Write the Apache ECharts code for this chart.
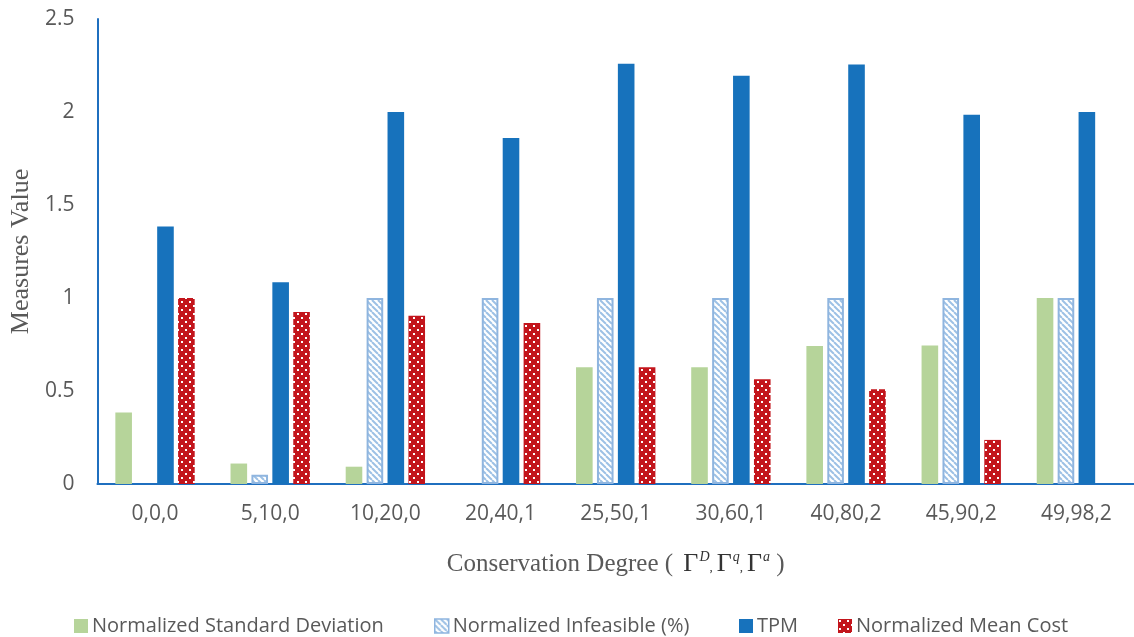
<!DOCTYPE html>
<html>
<head>
<meta charset="utf-8">
<script src="https://cdn.jsdelivr.net/npm/echarts@6/dist/echarts.min.js"></script>
<style>
  html, body { margin: 0; padding: 0; background: #fff; }
  #chart { width: 1134px; height: 637px; }
</style>
</head>
<body>
<div id="chart"></div>
<script>
// Conservation degree settings (Γ^D, Γ^q, Γ^a)
const categories = ['0,0,0', '5,10,0', '10,20,0', '20,40,1', '25,50,1', '30,60,1', '40,80,2', '45,90,2', '49,98,2'];

const stdDev     = [0.385, 0.11, 0.093, 0, 0.628, 0.628, 0.742, 0.745, 1];
const infeasible = [0, 0.05, 1, 1, 1, 1, 1, 1, 1];
const tpm        = [1.385, 1.085, 2.0, 1.86, 2.26, 2.195, 2.255, 1.985, 2.0];
const meanCost   = [1, 0.925, 0.905, 0.865, 0.628, 0.563, 0.51, 0.237, 0];

const seriesNames = ['Normalized Standard Deviation', 'Normalized Infeasible (%)', 'TPM', 'Normalized Mean Cost'];
const yTicks = ['0', '0.5', '1', '1.5', '2', '2.5'];

const TEXT = '#595959';
const AXIS = '#1F6FBF';

// diagonal light-blue hatching on white
function hatchPattern() {
  const c = document.createElement('canvas');
  c.width = 6; c.height = 6;
  const g = c.getContext('2d');
  g.fillStyle = '#ffffff';
  g.fillRect(0, 0, 6, 6);
  g.strokeStyle = '#9DC1E5';
  g.lineWidth = 2;
  for (let k = -6; k <= 6; k += 6) {
    g.beginPath();
    g.moveTo(k, 0);
    g.lineTo(k + 6, 6);
    g.stroke();
  }
  return c;
}

// red fill with staggered white dots
function dotPattern() {
  const c = document.createElement('canvas');
  c.width = 8; c.height = 8;
  const g = c.getContext('2d');
  g.fillStyle = '#C3151C';
  g.fillRect(0, 0, 8, 8);
  g.fillStyle = '#ffffff';
  g.fillRect(1, 1, 2, 2);
  g.fillRect(5, 5, 2, 2);
  return c;
}

// zero-height hatched bars get no outline
const infeasibleData = infeasible.map(v => v === 0 ? { value: v, itemStyle: { borderWidth: 0 } } : v);

const chart = echarts.init(document.getElementById('chart'), null, { renderer: 'canvas' });

const labelFont = { fontFamily: 'Open Sans', fontSize: 21, color: TEXT };
const legendBase = {
  top: 611,
  itemWidth: 14,
  itemHeight: 14,
  icon: 'rect',
  itemStyle: { borderWidth: 0 },
  textStyle: { fontFamily: 'Open Sans', fontSize: 20, color: TEXT, padding: [0, 0, 0, -1] }
};

const option = {
  backgroundColor: '#ffffff',
  animation: false,
  grid: { left: 96, right: 0, top: 19, bottom: 153, containLabel: false },
  legend: [
    Object.assign({}, legendBase, { left: 69, data: [seriesNames[0]] }),
    Object.assign({}, legendBase, { left: 429, data: [seriesNames[1]], itemStyle: { borderColor: '#8FB5DF', borderWidth: 1.5 } }),
    Object.assign({}, legendBase, { left: 734, data: [seriesNames[2]] }),
    Object.assign({}, legendBase, { left: 833, data: [seriesNames[3]] })
  ],
  xAxis: {
    type: 'category',
    data: categories,
    axisLine: { show: true, lineStyle: { color: AXIS, width: 2 } },
    axisTick: { show: false },
    axisLabel: Object.assign({ margin: 20 }, labelFont),
    splitLine: { show: false },
    name: 'Conservation Degree ( {g|Γ}{sup|D}{c|,}{g|Γ}{sup|q}{c|,}{g|Γ}{sup|a} )',
    nameLocation: 'middle',
    nameGap: 66,
    nameTextStyle: {
      fontFamily: 'Liberation Serif',
      fontSize: 25,
      color: TEXT,
      rich: {
        g: { fontFamily: 'Liberation Serif', fontSize: 26, color: '#333333', padding: [0, 0, 0, 4] },
        sup: { fontFamily: 'Liberation Serif', fontSize: 14, fontStyle: 'italic', color: '#333333', padding: [0, 0, 14, 1] },
        c: { fontFamily: 'Liberation Serif', fontSize: 13, color: '#333333', padding: [8, 0, 0, 0] }
      }
    }
  },
  yAxis: {
    type: 'value',
    min: 0,
    max: 2.5,
    interval: 0.5,
    axisLine: { show: true, lineStyle: { color: AXIS, width: 2 } },
    axisTick: { show: false },
    splitLine: { show: false },
    axisLabel: Object.assign({ margin: 23, formatter: (v, i) => yTicks[i] }, labelFont),
    name: 'Measures Value',
    nameLocation: 'middle',
    nameGap: 61,
    nameTextStyle: { fontFamily: 'Liberation Serif', fontSize: 26, color: TEXT }
  },
  series: [
    {
      name: seriesNames[0], type: 'bar', data: stdDev,
      barWidth: 16.6, barGap: '26%',
      itemStyle: { color: '#B6D49A' }
    },
    {
      name: seriesNames[1], type: 'bar', data: infeasibleData,
      barWidth: 16.6, barGap: '26%',
      itemStyle: { color: { image: hatchPattern(), repeat: 'repeat' }, borderColor: '#8FB5DF', borderWidth: 2 }
    },
    {
      name: seriesNames[2], type: 'bar', data: tpm,
      barWidth: 16.6, barGap: '26%',
      itemStyle: { color: '#1772BC' }
    },
    {
      name: seriesNames[3], type: 'bar', data: meanCost,
      barWidth: 16.6, barGap: '26%',
      itemStyle: { color: { image: dotPattern(), repeat: 'repeat' } }
    }
  ]
};

chart.setOption(option);
</script>
</body>
</html>
